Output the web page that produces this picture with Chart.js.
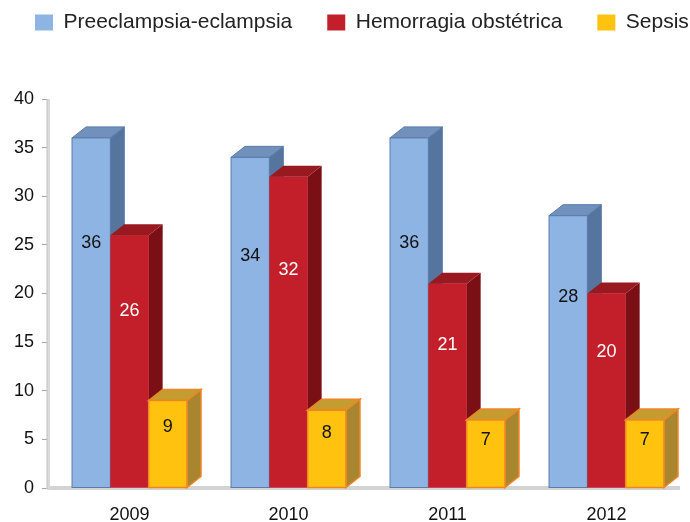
<!DOCTYPE html>
<html>
<head>
<meta charset="utf-8">
<script src="https://cdn.jsdelivr.net/npm/chart.js@4.4.1/dist/chart.umd.min.js"></script>
<style>
  html, body { margin: 0; padding: 0; background: #ffffff; }
  #wrap { width: 690px; height: 522px; }
</style>
</head>
<body>
<div id="wrap"><canvas id="c" width="690" height="522"></canvas></div>
<script>
// ---- data ----
const categories = ['2009', '2010', '2011', '2012'];
const seriesNames = ['Preeclampsia-eclampsia', 'Hemorragia obstétrica', 'Sepsis'];
const preeclampsia = [36, 34, 36, 28];
const hemorragia = [26, 32, 21, 20];
const sepsis = [9, 8, 7, 7];
const yMin = 0, yMax = 40, yStep = 5;

// ---- styles ----
const FONT = '"Liberation Sans", Arial, Helvetica, sans-serif';
const faceStyles = [
  { front: '#8EB4E3', top: '#7191BC', side: '#56759E', stroke: '#5A7CAA', strokeW: 1, label: '#111111' },
  { front: '#C21F2A', top: '#98191F', side: '#7A1015', stroke: null, strokeW: 0, label: '#ffffff' },
  { front: '#FFC20E', top: '#C49C30', side: '#A7862F', stroke: '#F08526', strokeW: 1.5, label: '#111111' }
];
const DX = 14, DY = 11;
const LABEL_FRACTION = 0.7;

const bar3d = {
  id: 'bar3d',
  beforeUpdate(chart) {
    const lg = chart.legend;
    if (lg && !lg._patched) {
      lg._patched = true;
      const origFit = lg.fit;
      lg.fit = function () {
        const mw = this.maxWidth;
        this.maxWidth = 5000;
        origFit.call(this);
        this.maxWidth = mw;
        this.width = mw;
        this.height = 99;
      };
      const origDraw = lg.draw;
      lg.draw = function () {
        const ctx = this.ctx;
        const r = this.right;
        this.right = 5000;
        ctx.save();
        ctx.translate(0, -23);
        origDraw.call(this);
        ctx.restore();
        this.right = r;
      };
    }
  },
  beforeDatasetsDraw(chart) {
    const ctx = chart.ctx, a = chart.chartArea;
    ctx.save();
    // floor
    ctx.fillStyle = '#D3D3D3';
    ctx.fillRect(a.left - 3, a.bottom - 2, a.right - 6 - (a.left - 3), 4);
    // y axis line
    ctx.fillStyle = '#D9D9D9';
    ctx.fillRect(a.left - 3, a.top, 3, a.bottom - a.top + 1);
    ctx.fillStyle = '#C4C4C4';
    ctx.fillRect(a.left - 3.5, a.top, 1, a.bottom - a.top + 1);
    ctx.restore();
  },
  afterDatasetsDraw(chart) {
    const ctx = chart.ctx;
    const n = chart.data.labels.length;
    ctx.save();
    for (let i = 0; i < n; i++) {
      for (let d = 0; d < chart.data.datasets.length; d++) {
        const el = chart.getDatasetMeta(d).data[i];
        const st = faceStyles[d];
        const w = el.width, l = el.x - w / 2, r = el.x + w / 2, t = el.y, b = el.base;
        // side
        ctx.beginPath();
        ctx.moveTo(r, t); ctx.lineTo(r + DX, t - DY); ctx.lineTo(r + DX, b - DY); ctx.lineTo(r, b); ctx.closePath();
        ctx.fillStyle = st.side; ctx.fill();
        if (st.stroke) { ctx.strokeStyle = st.stroke; ctx.lineWidth = st.strokeW; ctx.stroke(); }
        // top
        ctx.beginPath();
        ctx.moveTo(l, t); ctx.lineTo(l + DX, t - DY); ctx.lineTo(r + DX, t - DY); ctx.lineTo(r, t); ctx.closePath();
        ctx.fillStyle = st.top; ctx.fill();
        if (st.stroke) { ctx.strokeStyle = st.stroke; ctx.lineWidth = st.strokeW; ctx.stroke(); }
        // front
        ctx.fillStyle = st.front;
        ctx.fillRect(l, t, w, b - t);
        if (st.stroke) { ctx.strokeStyle = st.stroke; ctx.lineWidth = st.strokeW; ctx.strokeRect(l, t, w, b - t); }
      }
    }
    // labels
    ctx.font = '18px ' + FONT;
    ctx.textAlign = 'center';
    ctx.textBaseline = 'middle';
    for (let d = 0; d < chart.data.datasets.length; d++) {
      const meta = chart.getDatasetMeta(d);
      meta.data.forEach((el, i) => {
        const v = chart.data.datasets[d].data[i];
        const y = el.base - LABEL_FRACTION * (el.base - el.y);
        ctx.fillStyle = faceStyles[d].label;
        ctx.fillText(String(v), el.x, y);
      });
    }
    ctx.restore();
  }
};

const seriesValues = [preeclampsia, hemorragia, sepsis];
const datasets = seriesValues.map((vals, k) => ({
  label: seriesNames[k],
  data: vals,
  backgroundColor: faceStyles[k].front,
  borderWidth: 0,
  categoryPercentage: 0.723,
  barPercentage: 1.0
}));

new Chart(document.getElementById('c'), {
  type: 'bar',
  data: { labels: categories, datasets },
  options: {
    responsive: false,
    animation: false,
    devicePixelRatio: 1,
    layout: { padding: { left: 0, right: 4, top: 0, bottom: 0 } },
    plugins: {
      legend: {
        position: 'top',
        align: 'start',
        labels: {
          boxWidth: 18,
          boxHeight: 16,
          padding: 35,
          color: '#222222',
          font: { family: FONT, size: 21 }
        }
      },
      tooltip: { enabled: false }
    },
    scales: {
      x: {
        grid: { display: false, drawTicks: false },
        border: { display: false },
        ticks: { color: '#111111', font: { family: FONT, size: 18 }, padding: 16 },
        afterFit(s) { s.height = 34; }
      },
      y: {
        min: yMin, max: yMax,
        grid: { drawOnChartArea: false, drawTicks: true, tickLength: 8, color: '#A6A6A6' },
        border: { display: false },
        ticks: { stepSize: yStep, color: '#111111', font: { family: FONT, size: 18 }, padding: 8 },
        afterFit(s) { s.width = 50; }
      }
    }
  },
  plugins: [bar3d]
});
</script>
</body>
</html>
